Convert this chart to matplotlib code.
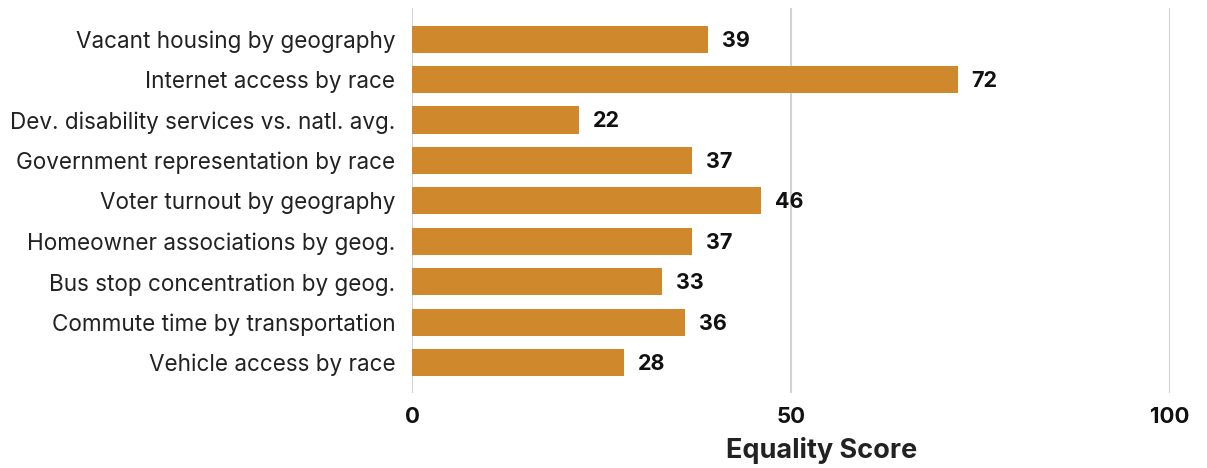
import matplotlib.pyplot as plt

plt.rcParams['font.family'] = ['Inter', 'DejaVu Sans']

categories = [
    "Vacant housing by geography",
    "Internet access by race",
    "Dev. disability services vs. natl. avg.",
    "Government representation by race",
    "Voter turnout by geography",
    "Homeowner associations by geog.",
    "Bus stop concentration by geog.",
    "Commute time by transportation",
    "Vehicle access by race",
]
scores = [39, 72, 22, 37, 46, 37, 33, 36, 28]
xticks = [0, 50, 100]

fig = plt.figure(figsize=(12.07, 4.68), dpi=100)
ax = fig.add_axes([412 / 1207, 1 - 393 / 468, 758 / 1207, 385 / 468])

pos = range(len(categories))
ax.barh(pos, scores, height=0.67, color='#D0882C', zorder=2)

for i, v in enumerate(scores):
    ax.annotate(str(v), (v, i), xytext=(10, -1), textcoords='offset points',
                ha='left', va='center', fontsize=15.5, fontweight='bold', color='#111111')

ax.set_xlim(0, 100)
ax.set_ylim(len(categories) - 0.25, -0.77)
ax.set_yticks(list(pos))
ax.set_yticklabels(categories, fontsize=16.2, color='#222222')
ax.set_xticks(xticks)
ax.set_xticklabels([str(t) for t in xticks], fontsize=16, fontweight='bold', color='#111111')
ax.tick_params(axis='both', length=0)
ax.tick_params(axis='x', pad=10)
ax.tick_params(axis='y', pad=12)
ax.grid(axis='x', color='#d3d3d3', linewidth=1.5, zorder=0)
for s in ax.spines.values():
    s.set_visible(False)

ax.set_xlabel("Equality Score", fontsize=19.5, fontweight='bold', color='#222222')
ax.xaxis.set_label_coords(0.541, -0.115)

fig.savefig("out.png", dpi=100)
